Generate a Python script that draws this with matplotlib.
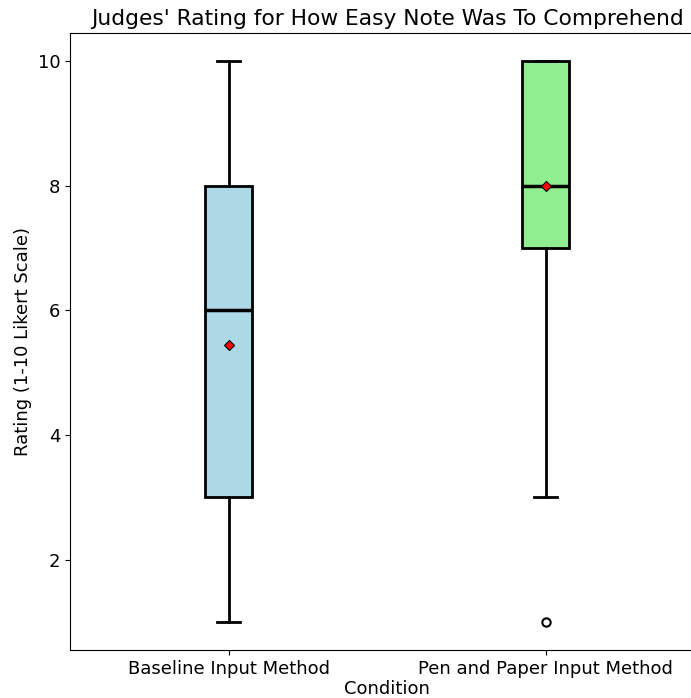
import matplotlib
matplotlib.use("Agg")
import matplotlib.pyplot as plt

categories = ["Baseline Input Method", "Pen and Paper Input Method"]
whislo = [1, 3]
q1 = [3, 7]
med = [6, 8]
q3 = [8, 10]
whishi = [10, 10]
means = [5.45, 8.0]
fliers = [[], [1]]
colors = ["lightblue", "lightgreen"]

stats = []
for i, c in enumerate(categories):
    stats.append(dict(label=c, whislo=whislo[i], q1=q1[i], med=med[i], q3=q3[i],
                      whishi=whishi[i], mean=means[i], fliers=fliers[i]))

fig = plt.figure(figsize=(6.91, 6.98), dpi=100)
ax = fig.add_axes([70/691, 48/698, 634/691, 617/698])

bp = ax.bxp(stats, widths=0.15, patch_artist=True, showmeans=True,
            boxprops=dict(linewidth=2, edgecolor="black"),
            whiskerprops=dict(linewidth=2, color="black"),
            capprops=dict(linewidth=2, color="black"),
            medianprops=dict(linewidth=2.5, color="black"),
            meanprops=dict(marker="D", markerfacecolor="red", markeredgecolor="black",
                           markeredgewidth=0.8, markersize=5),
            flierprops=dict(marker="o", markerfacecolor="none", markeredgecolor="black",
                            markeredgewidth=1.5, markersize=6))
for patch, col in zip(bp["boxes"], colors):
    patch.set_facecolor(col)

ax.set_title("Judges' Rating for How Easy Note Was To Comprehend", fontsize=15.7)
ax.set_xlabel("Condition", fontsize=13, labelpad=2)
ax.set_ylabel("Rating (1-10 Likert Scale)", fontsize=13)
ax.tick_params(labelsize=13)
ax.set_yticks([2, 4, 6, 8, 10])

fig.savefig("out.png", dpi=100)
